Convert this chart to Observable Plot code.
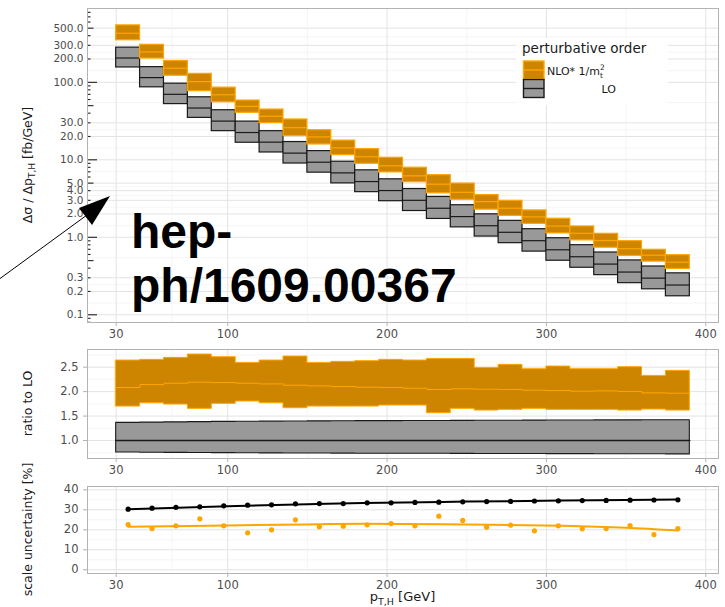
<!DOCTYPE html>
<html>
<head>
<meta charset="utf-8">
<script src="https://cdn.jsdelivr.net/npm/d3@7"></script>
<script src="https://cdn.jsdelivr.net/npm/@observablehq/plot@0.6"></script>
<style>
  body { margin: 0; background: #fff; overflow: hidden; }
  #fig { position: relative; width: 725px; height: 607px; font-family: "DejaVu Sans", sans-serif; }
  #fig > svg { position: absolute; left: 0; }
  #overlay { top: 0; pointer-events: none; }
</style>
</head>
<body>
<div id="fig"></div>
<script>
// Transverse-momentum bins of the Higgs boson [GeV]
const binLow  = [30, 45, 60, 75, 90, 105, 120, 135, 150, 165, 180, 195, 210, 225, 240, 255, 270, 285, 300, 315, 330, 345, 360, 375];
const binHigh = [45, 60, 75, 90, 105, 120, 135, 150, 165, 180, 195, 210, 225, 240, 255, 270, 285, 300, 315, 330, 345, 360, 375, 390];
const binMid  = [37.5, 52.5, 67.5, 82.5, 97.5, 112.5, 127.5, 142.5, 157.5, 172.5, 187.5, 202.5, 217.5, 232.5, 247.5, 262.5, 277.5, 292.5, 307.5, 322.5, 337.5, 352.5, 367.5, 382.5];

// LO differential cross section, central scale [fb/GeV]
const loCentral = [206, 115, 70, 46.6, 31.6, 22.5, 16.9, 12.2, 9.31, 6.78, 5.24, 4.01, 3.0, 2.37, 1.85, 1.41, 1.16, 0.904, 0.69, 0.561, 0.451, 0.356, 0.297, 0.242];

// Ratios to the LO central value: LO scale band
const loRatioUp  = [1.361, 1.366, 1.372, 1.376, 1.381, 1.384, 1.386, 1.390, 1.392, 1.393, 1.396, 1.397, 1.399, 1.400, 1.402, 1.404, 1.405, 1.407, 1.409, 1.410, 1.411, 1.413, 1.414, 1.416];
const loRatioLow = [0.755, 0.750, 0.748, 0.746, 0.742, 0.738, 0.736, 0.734, 0.733, 0.732, 0.730, 0.729, 0.728, 0.728, 0.726, 0.725, 0.724, 0.723, 0.722, 0.721, 0.720, 0.719, 0.718, 0.716];

// Ratios to the LO central value: NLO* 1/mt^2 central value and scale band
const nloRatio    = [2.084, 2.145, 2.172, 2.193, 2.186, 2.172, 2.158, 2.131, 2.118, 2.104, 2.091, 2.084, 2.070, 2.043, 2.057, 2.050, 2.043, 2.029, 2.022, 2.009, 2.015, 2.002, 1.975, 1.968];
const nloRatioUp  = [2.636, 2.650, 2.691, 2.759, 2.704, 2.588, 2.636, 2.718, 2.588, 2.609, 2.623, 2.650, 2.636, 2.670, 2.670, 2.486, 2.548, 2.459, 2.513, 2.459, 2.459, 2.500, 2.322, 2.425];
const nloRatioLow = [1.695, 1.763, 1.736, 1.648, 1.750, 1.798, 1.763, 1.661, 1.695, 1.695, 1.695, 1.716, 1.716, 1.559, 1.648, 1.613, 1.627, 1.648, 1.627, 1.627, 1.627, 1.613, 1.634, 1.613];

// Relative scale uncertainty per bin [%]
const uncLO  = [30.3, 30.8, 31.2, 31.5, 32.0, 32.3, 32.5, 33.0, 33.1, 33.1, 33.5, 33.5, 33.7, 33.8, 34.0, 34.1, 34.2, 34.4, 34.5, 34.6, 34.7, 34.8, 34.9, 35.0];
const uncNLO = [22.6, 20.6, 22.0, 25.5, 22.0, 18.5, 20.0, 25.0, 21.5, 21.8, 22.5, 23.1, 22.0, 26.8, 24.7, 21.3, 22.3, 19.5, 22.0, 20.5, 20.6, 22.1, 17.6, 20.6];

// Smoothed trend of the scale uncertainty [%]
const smoothX   = [37.5, 100, 150, 185, 250, 310, 350, 382.5];
const smoothLO  = [30.3, 31.8, 32.8, 33.4, 34.1, 34.6, 34.9, 35.1];
const smoothNLO = [21.5, 22.2, 22.7, 23.0, 22.7, 22.0, 21.0, 19.6];

// Axis breaks
const xTicks = [30, 100, 200, 300, 400];
const xMinor = [65, 150, 250, 350];
const yTopTicks = [0.1, 0.2, 0.3, 1, 2, 3, 4, 5, 10, 20, 30, 100, 200, 300, 500];
const ratioTicks = [1.0, 1.5, 2.0, 2.5];
const ratioMinor = [0.75, 1.25, 1.75, 2.25, 2.75];
const uncTicks = [0, 10, 20, 30, 40];
const uncMinor = [5, 15, 25, 35];

// Colours
const ORANGE = "#FFA500", ORANGE_FILL = "#CD8500", GREY_FILL = "#999999", DARK = "#1a1a1a";
const GRID = "#e3e3e3", GRID_MINOR = "#f0f0f0", BORDER = "#b3b3b3", TICKTXT = "#4d4d4d";

const rows = binLow.map((x1, i) => ({
  x1, x2: binHigh[i], xm: binMid[i],
  lo: loCentral[i],
  loDn: loCentral[i] * loRatioLow[i], loUp: loCentral[i] * loRatioUp[i],
  nlo: loCentral[i] * nloRatio[i],
  nloDn: loCentral[i] * nloRatioLow[i], nloUp: loCentral[i] * nloRatioUp[i],
  rLo: loCentral[i] / loCentral[i], rLoDn: loRatioLow[i], rLoUp: loRatioUp[i],
  rNlo: nloRatio[i], rNloDn: nloRatioLow[i], rNloUp: nloRatioUp[i],
  uLo: uncLO[i], uNlo: uncNLO[i]
}));
// step outline: each bin contributes its two edges
const steps = rows.flatMap(r => [{...r, x: r.x1}, {...r, x: r.x2}]);
const smoothRows = smoothX.map((x, i) => ({x, lo: smoothLO[i], nlo: smoothNLO[i]}));

const W = 725, ML = 87, MR = 7;
const xDomain = [12, 408];
const pxPerGeV = (W - ML - MR) / (xDomain[1] - xDomain[0]);
const baseStyle = {fontFamily: "DejaVu Sans", fontSize: "11.5px", color: TICKTXT, background: "transparent", overflow: "visible"};

const xAxis = () => Plot.axisX(xTicks, {tickSize: 4, tickPadding: 3, stroke: BORDER, color: TICKTXT, label: null, tickFormat: d => String(d)});
const xGrid = () => [
  Plot.ruleX(xMinor, {stroke: GRID_MINOR, strokeWidth: 0.7}),
  Plot.ruleX(xTicks, {stroke: GRID, strokeWidth: 1})
];

// ---- top panel: differential cross section, log scale
const topDomain = [0.0795, 897];
const topMinor = d3.pairs(yTopTicks).map(([a, b]) => Math.sqrt(a * b));
const logTicks = [];
for (let e = -2; e <= 2; e++) {
  for (let k = 1; k <= 9; k++) {
    const v = k * Math.pow(10, e);
    if (v >= topDomain[0] && v <= topDomain[1]) logTicks.push({v, len: k === 1 ? 10 : k === 5 ? 6.5 : 3.5});
  }
}

const topPlot = Plot.plot({
  width: W, height: 340, marginLeft: ML, marginRight: MR, marginTop: 8, marginBottom: 18,
  style: baseStyle,
  x: {domain: xDomain, axis: null},
  y: {type: "log", domain: topDomain, axis: null},
  marks: [
    Plot.ruleY(topMinor, {stroke: GRID_MINOR, strokeWidth: 0.7}),
    Plot.ruleY(yTopTicks, {stroke: GRID, strokeWidth: 1}),
    ...xGrid(),
    Plot.ruleY(logTicks, {y: "v", x1: xDomain[0], x2: d => xDomain[0] + d.len / pxPerGeV, stroke: "#222", strokeWidth: 1.1}),
    Plot.rect(rows, {x1: "x1", x2: "x2", y1: "loDn", y2: "loUp", fill: GREY_FILL, stroke: DARK, strokeWidth: 1.2}),
    Plot.ruleY(rows, {x1: "x1", x2: "x2", y: "lo", stroke: DARK, strokeWidth: 1.2}),
    Plot.rect(rows, {x1: "x1", x2: "x2", y1: "nloDn", y2: "nloUp", fill: ORANGE_FILL, stroke: ORANGE, strokeWidth: 1.2}),
    Plot.ruleY(rows, {x1: "x1", x2: "x2", y: "nlo", stroke: ORANGE, strokeWidth: 1.2}),
    Plot.frame({stroke: BORDER}),
    // every break labelled with one decimal
    Plot.text(yTopTicks, {x: xDomain[0], y: d => d, text: d3.format(".1f"), textAnchor: "end", dx: -4, fill: TICKTXT, fontSize: 10.5}),
    xAxis()
  ]
});
topPlot.style.top = "0px";

// ---- middle panel: ratio to LO
const midPlot = Plot.plot({
  width: W, height: 136, marginLeft: ML, marginRight: MR, marginTop: 9, marginBottom: 18,
  style: baseStyle,
  x: {domain: xDomain, axis: null},
  y: {domain: [0.632, 2.862], axis: null},
  marks: [
    Plot.ruleY(ratioMinor, {stroke: GRID_MINOR, strokeWidth: 0.7}),
    Plot.ruleY(ratioTicks, {stroke: GRID, strokeWidth: 1}),
    ...xGrid(),
    Plot.areaY(steps, {x: "x", y1: "rNloDn", y2: "rNloUp", fill: ORANGE_FILL, stroke: ORANGE, strokeWidth: 1}),
    Plot.line(steps, {x: "x", y: "rNlo", stroke: ORANGE, strokeWidth: 1}),
    Plot.areaY(steps, {x: "x", y1: "rLoDn", y2: "rLoUp", fill: GREY_FILL, stroke: DARK, strokeWidth: 1.1}),
    Plot.line(steps, {x: "x", y: "rLo", stroke: DARK, strokeWidth: 1.4}),
    Plot.frame({stroke: BORDER}),
    Plot.axisY(ratioTicks, {tickSize: 4, tickPadding: 5, stroke: BORDER, color: TICKTXT, label: null, tickFormat: d3.format(".1f")}),
    xAxis()
  ]
});
midPlot.style.top = "340px";

// ---- bottom panel: relative scale uncertainty
const botPlot = Plot.plot({
  width: W, height: 131, marginLeft: ML, marginRight: MR, marginTop: 10, marginBottom: 34,
  style: baseStyle,
  x: {domain: xDomain, axis: null},
  y: {domain: [-1.85, 41.65], axis: null},
  marks: [
    Plot.ruleY(uncMinor, {stroke: GRID_MINOR, strokeWidth: 0.7}),
    Plot.ruleY(uncTicks, {stroke: GRID, strokeWidth: 1}),
    ...xGrid(),
    Plot.line(smoothRows, {x: "x", y: "lo", stroke: "#000", strokeWidth: 2, curve: "natural"}),
    Plot.line(smoothRows, {x: "x", y: "nlo", stroke: ORANGE, strokeWidth: 2, curve: "natural"}),
    Plot.dot(rows, {x: "xm", y: "uLo", fill: "#000", r: 2.6}),
    Plot.dot(rows, {x: "xm", y: "uNlo", fill: ORANGE, r: 2.6}),
    Plot.frame({stroke: BORDER}),
    Plot.axisY(uncTicks, {tickSize: 4, tickPadding: 5, stroke: BORDER, color: TICKTXT, label: null, tickFormat: d => String(d)}),
    xAxis()
  ]
});
botPlot.style.top = "476px";

const fig = document.getElementById("fig");
fig.append(topPlot, midPlot, botPlot);

// ---- titles, legend and annotation
const ov = d3.select(fig).append("svg").attr("id", "overlay")
  .attr("width", W).attr("height", 607)
  .style("font-family", "DejaVu Sans, sans-serif");

// y-axis titles
const yTitle = (cy) => ov.append("text")
  .attr("transform", `translate(32,${cy}) rotate(-90)`)
  .attr("text-anchor", "middle").attr("font-size", 12.5).attr("fill", DARK);
const t1 = yTitle(165);
t1.append("tspan").text("Δσ / Δp");
t1.append("tspan").attr("font-size", 9).attr("dy", 3).text("T,H");
t1.append("tspan").attr("dy", -3).text(" [fb/GeV]");
yTitle(403.5).text("ratio to LO");
yTitle(529.5).text("scale uncertainty [%]");

// x-axis title
const xt = ov.append("text").attr("x", (ML + W - MR) / 2).attr("y", 601)
  .attr("text-anchor", "middle").attr("font-size", 13).attr("fill", DARK);
xt.append("tspan").text("p");
xt.append("tspan").attr("font-size", 9.5).attr("dy", 3.5).text("T,H");
xt.append("tspan").attr("dy", -3.5).text(" [GeV]");

// legend
const lg = ov.append("g");
lg.append("rect").attr("x", 516).attr("y", 38).attr("width", 152).attr("height", 67).attr("fill", "#fff");
lg.append("text").attr("x", 522).attr("y", 53).attr("font-size", 13.5).attr("fill", DARK).text("perturbative order");
const key = (y, fill, stroke) => {
  lg.append("rect").attr("x", 523.5).attr("y", y).attr("width", 20.5).attr("height", 18)
    .attr("fill", fill).attr("stroke", stroke).attr("stroke-width", 1.4);
  lg.append("line").attr("x1", 523.5).attr("x2", 544).attr("y1", y + 9).attr("y2", y + 9)
    .attr("stroke", stroke).attr("stroke-width", 1.4);
};
key(61, ORANGE_FILL, ORANGE);
key(79.5, GREY_FILL, DARK);
const nl = lg.append("text").attr("x", 547).attr("y", 75).attr("font-size", 11).attr("fill", DARK);
nl.append("tspan").text("NLO* 1/m");
nl.append("tspan").attr("font-size", 7.5).attr("dy", -5).text("2");
nl.append("tspan").attr("font-size", 7.5).attr("dx", -4.8).attr("dy", 8).text("t");
lg.append("text").attr("x", 616).attr("y", 93).attr("text-anchor", "end").attr("font-size", 11).attr("fill", DARK).text("LO");

// reference annotation
const note = ov.append("text").attr("font-family", "Liberation Sans, Arial, sans-serif")
  .attr("font-weight", "bold").attr("font-size", 48).attr("fill", "#000");
note.append("tspan").attr("x", 131).attr("y", 248).text("hep-");
note.append("tspan").attr("x", 131).attr("y", 302).text("ph/1609.00367");
ov.append("line").attr("x1", -2).attr("y1", 280).attr("x2", 87).attr("y2", 215)
  .attr("stroke", "#000").attr("stroke-width", 1);
ov.append("path").attr("d", "M110,196 L79,208 L92,225 Z").attr("fill", "#000");
</script>
</body>
</html>
